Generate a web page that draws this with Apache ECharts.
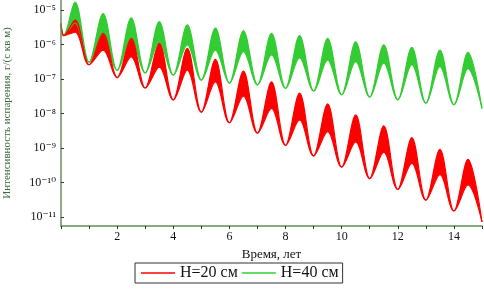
<!DOCTYPE html>
<html>
<head>
<meta charset="utf-8">
<script src="https://cdn.jsdelivr.net/npm/echarts@6/dist/echarts.min.js"></script>
<style>
  html, body { margin: 0; padding: 0; background: #fff; }
  #chart { width: 484px; height: 291px; }
</style>
</head>
<body>
<div id="chart"></div>
<script>
// время, лет (впадины на целых годах, пики на полугодах)
var tYears = [0, 0.1, 0.5, 1, 1.5, 2, 2.5, 3, 3.5, 4, 4.5, 5, 5.5, 6, 6.5, 7, 7.5,
  8, 8.5, 9, 9.5, 10, 10.5, 11, 11.5, 12, 12.5, 13, 13.5, 14, 14.5, 15];

// H=40 см : верхняя и нижняя огибающие полосы, г/(с кв м)
var h40High = [4.2e-6, 1.9e-6, 1.7e-5, 3.1e-7, 7.9e-6, 1.8e-7, 5.9e-6, 1.5e-7, 4.6e-6, 1.3e-7,
  3.7e-6, 9.3e-8, 3.0e-6, 7.6e-8, 2.5e-6, 6.8e-8, 2.1e-6, 5.4e-8, 1.8e-6, 4.5e-8,
  1.5e-6, 3.5e-8, 1.2e-6, 3.0e-8, 9.8e-7, 2.5e-8, 8.3e-7, 2.0e-8, 6.9e-7, 1.8e-8, 5.9e-7, 1.4e-8];
var h40Low = [4.2e-6, 1.9e-6, 4.2e-6, 3.1e-7, 2.1e-6, 1.8e-7, 1.5e-6, 1.5e-7, 1.2e-6, 1.3e-7,
  9.8e-7, 9.3e-8, 6.9e-7, 7.6e-8, 6.2e-7, 6.8e-8, 5.0e-7, 5.4e-8, 4.1e-7, 4.5e-8,
  3.5e-7, 3.5e-8, 3.2e-7, 3.0e-8, 2.9e-7, 2.5e-8, 2.6e-7, 2.0e-8, 2.3e-7, 1.8e-8, 2.0e-7, 1.4e-8];

// H=20 см
var h20High = [3.8e-6, 1.8e-6, 5.1e-6, 2.6e-7, 2.1e-6, 1.1e-7, 1.5e-6, 5.5e-8, 1.1e-6, 2.5e-8,
  7.8e-7, 1.1e-8, 3.7e-7, 5.4e-9, 1.7e-7, 2.7e-9, 8.3e-8, 1.2e-9, 3.9e-8, 5.9e-10,
  1.9e-8, 2.8e-10, 9.1e-9, 1.3e-10, 4.4e-9, 6.3e-11, 2.0e-9, 3.1e-11, 9.1e-10, 1.5e-11, 4.7e-10, 7.2e-12];
var h20Low = [3.8e-6, 1.8e-6, 2.3e-6, 2.6e-7, 6.9e-7, 1.1e-7, 4.4e-7, 5.5e-8, 2.2e-7, 2.5e-8,
  1.8e-7, 1.1e-8, 8.3e-8, 5.4e-9, 3.2e-8, 2.7e-9, 1.4e-8, 1.2e-9, 6.5e-9, 5.9e-10,
  3.0e-9, 2.8e-10, 1.5e-9, 1.3e-10, 7.6e-10, 6.3e-11, 3.6e-10, 3.1e-11, 1.7e-10, 1.5e-11, 8.5e-11, 7.2e-12];

var seriesNames = ['Н=20 см', 'Н=40 см'];
var FONT = '"Liberation Serif", "DejaVu Serif", serif';
var SUP = { '-': '⁻', '0': '⁰', '1': '¹', '2': '²', '3': '³', '4': '⁴', '5': '⁵', '6': '⁶', '7': '⁷', '8': '⁸', '9': '⁹' };
var SMOOTH = 0.35;

function sup(n) {
  return String(n).split('').map(function (c) { return SUP[c] || c; }).join('');
}

// полоса: верхняя огибающая залита цветом до низа оси, нижняя - белым
// (стек на log-оси не работает, поэтому так)
function band(name, low, high, color) {
  var highData = tYears.map(function (t, i) { return [t, high[i]]; });
  var lowData = tYears.map(function (t, i) { return [t, low[i]]; });
  return [
    {
      name: name, type: 'line', data: highData,
      symbol: 'none', smooth: SMOOTH,
      lineStyle: { color: color, width: 1.2 },
      itemStyle: { color: color },
      areaStyle: { color: color, opacity: 1, origin: 'start' }
    },
    {
      name: name + ' low', type: 'line', data: lowData,
      symbol: 'none', smooth: SMOOTH,
      lineStyle: { color: color, width: 1.2 },
      itemStyle: { color: color },
      areaStyle: { color: '#fff', opacity: 1, origin: 'start' }
    }
  ];
}

var chart = echarts.init(document.getElementById('chart'));
chart.setOption({
  animation: false,
  grid: { left: 61, right: 2, top: 0, bottom: 65, outerBoundsMode: 'none' },
  legend: {
    data: seriesNames,
    left: 135, top: 263,
    icon: 'rect',
    itemWidth: 34, itemHeight: 1.5, itemGap: 4,
    padding: [2, 4, 2, 6],
    borderColor: '#333', borderWidth: 1,
    textStyle: { fontFamily: FONT, fontSize: 16, lineHeight: 16, color: '#111' }
  },
  xAxis: {
    type: 'value', min: 0, max: 15, interval: 1, z: 10,
    name: 'Время, лет', nameLocation: 'middle', nameGap: 18,
    nameTextStyle: { fontFamily: FONT, fontSize: 13, color: '#111' },
    axisLine: { lineStyle: { color: '#5b8f4f', width: 1.5 } },
    axisTick: { show: true, length: 3, lineStyle: { color: '#333' } },
    axisLabel: {
      margin: 5, fontFamily: FONT, fontSize: 12, color: '#111',
      formatter: function (v) { return (v > 0 && v % 2 === 0) ? String(v) : ''; }
    },
    splitLine: { show: false }
  },
  yAxis: {
    type: 'log', logBase: 10, min: 5.5e-12, max: 1.95e-5, z: 10,
    name: 'Интенсивность испарения, г/(с кв м)', nameLocation: 'middle', nameGap: 48,
    nameTextStyle: { fontFamily: FONT, fontSize: 11, color: '#3b6b3b' },
    axisLine: { show: true, lineStyle: { color: '#6b8f63', width: 1.5 } },
    axisTick: { show: true, inside: true, length: 3, lineStyle: { color: '#333' } },
    axisLabel: {
      margin: 5, fontFamily: FONT, fontSize: 12, color: '#111',
      showMinLabel: false, showMaxLabel: false,
      formatter: function (v) { return '10' + sup(Math.round(Math.log10(v))); }
    },
    splitLine: { show: false }
  },
  series: band(seriesNames[1], h40Low, h40High, '#33cc33')
    .concat(band(seriesNames[0], h20Low, h20High, '#ff0000'))
});
</script>
</body>
</html>
